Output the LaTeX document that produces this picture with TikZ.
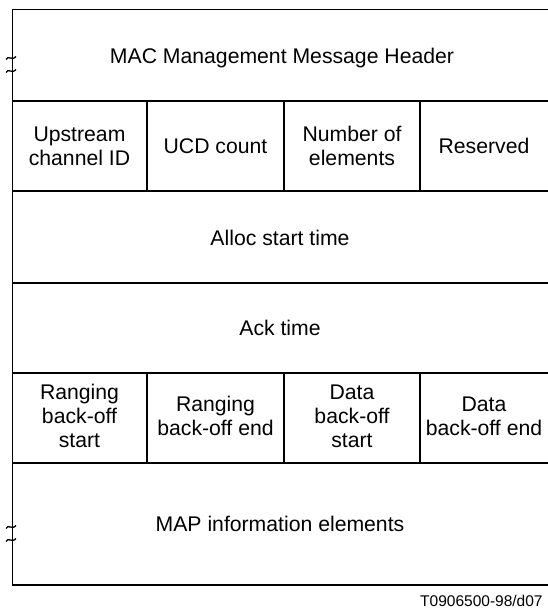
\documentclass[tikz,border=0pt]{standalone}
\usepackage{fontspec}
\setmainfont{Liberation Sans}
\usepackage{tikz}
\usetikzlibrary{positioning}

\begin{document}
\begin{tikzpicture}[
  x=1pt, y={(0pt,-1pt)},
  every node/.style={font=\fontsize{21.2}{24}\selectfont},
  field/.style={align=center, inner sep=0pt},
  rule/.style={line width=2pt},
  thin rule/.style={line width=1pt},
  breakmark/.style={line width=1.3pt},
]
\useasboundingbox (0,0) rectangle (548,610);
% outline
\draw[thin rule] (548,10) -- (12,10) -- (12,585);
\draw[rule] (12,585) -- (548,585);
% row separators
\foreach \y in {101,191,283,373,463}
  \draw[rule] (12,\y) -- (548,\y);
% column separators
\foreach \x in {147,284,420} {
  \draw[rule] (\x,101) -- (\x,191);
  \draw[rule] (\x,373) -- (\x,463);
}
% break marks on the left edge
\foreach \y in {58,71,527,540}
  \draw[breakmark] (6,\y+1.5) .. controls (8.5,\y-3.5) and (11.5,\y+3.5) .. (16,\y-1.5);

% header
\node[field] (hdr) at (282,58) {MAC Management Message Header};
% second row
\node[field] (ucid) at (79.5,146) {Upstream\\channel ID};
\node[field] (ucd) at (215.5,146) {UCD count};
\node[field] (nelem) at (352,146) {Number of\\elements};
\node[field] (resv) at (484,146) {Reserved};
% times
\node[field] (alloc) at (280,238) {Alloc start time};
\node[field] (ack) at (280,328) {Ack time};
% back-off row
\node[field] (rstart) at (79.5,416) {Ranging\\back-off\\start};
\node[field] (rend) at (215.5,416) {Ranging\\back-off end};
\node[field] (dstart) at (352,416) {Data\\back-off\\start};
\node[field] (dend) at (484,416) {Data\\back-off end};
% elements
\node[field] (map) at (280,524) {MAP information elements};

% figure tag
\node[field, anchor=base west, font=\fontsize{15.5}{18}\selectfont] (tag) at (420,606) {T0906500-98/d07};
\end{tikzpicture}
\end{document}
